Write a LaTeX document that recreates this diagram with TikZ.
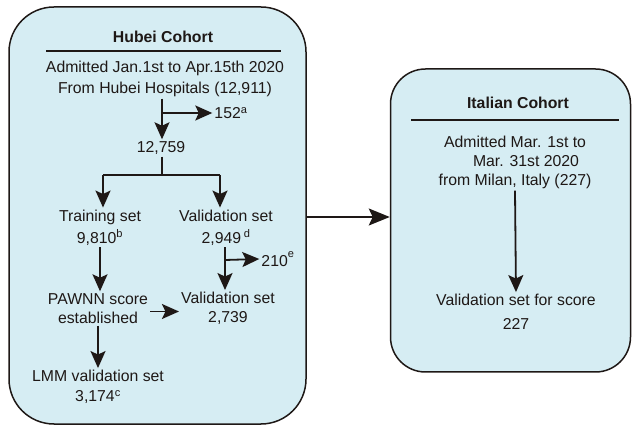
\documentclass[tikz,border=0pt]{standalone}
\usepackage{fontspec}
\setmainfont{Liberation Sans}
\usepackage{tikz}
\definecolor{cohortfill}{RGB}{214, 237, 243}
\definecolor{ink}{RGB}{30, 24, 22}
\usetikzlibrary{positioning}
\usetikzlibrary{arrows.meta}

\tikzset{
  cohort/.style={rectangle, draw=ink, fill=cohortfill, line width=1.5pt},
  txt/.style={inner sep=2pt, align=center, text=ink, font=\fontsize{15.8}{22}\selectfont},
  heading/.style={txt, font=\fontsize{15.8}{22}\selectfont\bfseries},
  arr/.style={-{Stealth[length=17pt, width=15pt, inset=3.5pt]}, line width=1.8pt, draw=ink},
  bigarr/.style={-{Stealth[length=21pt, width=17pt, inset=4pt]}, line width=1.8pt, draw=ink},
  lin/.style={line width=1.8pt, draw=ink}
}

\begin{document}
\begin{tikzpicture}
\useasboundingbox (0pt, 0pt) rectangle (633pt, -425pt);
% cohort boxes
\node (hubeibox) [cohort, rounded corners=45pt, minimum width=297pt, minimum height=417pt] at (157.5pt, -215.5pt) {};
\node (italybox) [cohort, rounded corners=35pt, minimum width=240pt, minimum height=303pt] at (510.5pt, -220.5pt) {};
% Hubei cohort
\node (hubei) [heading] at (163.0pt, -37.0pt) {Hubei Cohort};
\draw [lin, line width=1.5pt] (46.0pt, -51.0pt) -- (281.0pt, -51.0pt);
\node (admit) [txt, font=\fontsize{15.8}{21}\selectfont] at (165.0pt, -78.5pt) {Admitted Jan.1st to Apr.15th 2020\\From Hubei Hospitals (12,911)};
\node (excl1) [txt] at (231.0pt, -113.0pt) {152\textsuperscript{a}};
\node (all) [txt] at (161.0pt, -148.0pt) {12,759};
\node (train) [txt] at (100.0pt, -227.5pt) {Training set\\9,810\textsuperscript{b}};
\node (valid1) [txt] at (226.0pt, -227.5pt) {Validation set\\2,949\,\textsuperscript{d}};
\node (excl2) [txt] at (278.0pt, -259.0pt) {210\raisebox{3pt}{\textsuperscript{e}}};
\node (pawnn) [txt, font=\fontsize{15.8}{19}\selectfont] at (98.0pt, -308.5pt) {PAWNN score\\established};
\node (valid2) [txt, font=\fontsize{15.8}{19}\selectfont] at (228.0pt, -308.5pt) {Validation set\\2,739};
\node (lmm) [txt, font=\fontsize{15.8}{20}\selectfont] at (98.0pt, -387.0pt) {LMM validation set\\3,174\textsuperscript{c}};
% Italian cohort
\node (italy) [heading] at (518.0pt, -103.0pt) {Italian Cohort};
\draw [lin, line width=1.5pt] (411.0pt, -120.0pt) -- (619.0pt, -120.0pt);
\node (admit2) [txt, font=\fontsize{15.8}{19}\selectfont] at (515.0pt, -162.0pt) {Admitted Mar. 1st to\\\hspace*{22pt}Mar. 31st 2020\\from Milan, Italy (227)};
\node (valid3) [txt, font=\fontsize{15.8}{24}\selectfont] at (516.0pt, -312.0pt) {Validation set for score\\227};
% branch points
\coordinate (j1) at (162.0pt, -113.0pt);
\coordinate (jl) at (103.0pt, -175.0pt);
\coordinate (jr) at (220.0pt, -175.0pt);
\coordinate (j3) at (225.0pt, -260.0pt);
% connectors
\draw [arr] (j1 |- admit.south) -- (j1 |- all.north);
\draw [arr] (j1) -- (excl1.west);
\draw [lin] (j1 |- all.south) -- (j1 |- jl);
\draw [lin] (jl) -- (jr);
\draw [arr] (jl) -- (jl |- train.north);
\draw [arr] (jr) -- (jr |- valid1.north);
\draw [arr] (j3 |- valid1.south) -- (j3 |- valid2.north);
\draw [arr] (j3) -- (excl2.west);
\draw [arr] (train.south) -- (train.south |- pawnn.north);
\draw [arr] ([yshift=-3pt]pawnn.east) -- ([yshift=-3pt]pawnn.east -| valid2.west);
\draw [arr] (pawnn.south) -- (pawnn.south |- lmm.north);
\draw [arr] (admit2.south) -- (valid3.north);
\draw [bigarr] ([yshift=-1.5pt]hubeibox.east) -- ([yshift=-1.5pt]hubeibox.east -| italybox.west);
\end{tikzpicture}
\end{document}
